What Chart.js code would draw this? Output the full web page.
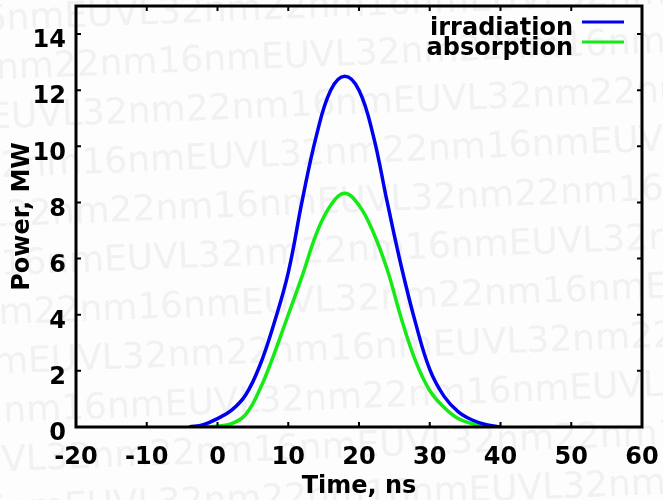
<!DOCTYPE html>
<html>
<head>
<meta charset="utf-8">
<script src="https://cdn.jsdelivr.net/npm/chart.js@4"></script>
<style>
  html, body { margin: 0; padding: 0; background: #fff; }
  #wrap { width: 663px; height: 500px; }
</style>
</head>
<body>
<div id="wrap"><canvas id="chart" width="663" height="500"></canvas></div>
<script>
// values
var timeNs       = [-4, -2, 0, 2, 4, 6, 8, 10, 12, 14, 16, 18, 20, 22, 24, 26, 28, 30, 32, 34, 36, 38, 40]
var irradiation  = [0, 0.08, 0.3, 0.6, 1.15, 2.2, 3.7, 5.5, 8.1, 10.4, 12.0, 12.5, 12.0, 10.4, 8.0, 5.7, 3.7, 2.05, 1.1, 0.55, 0.25, 0.08, 0]
var absorption   = [null, 0, 0.03, 0.12, 0.45, 1.35, 2.6, 4.0, 5.4, 6.9, 7.9, 8.33, 7.9, 6.95, 5.6, 3.85, 2.35, 1.3, 0.7, 0.3, 0.12, 0.02, 0]
var seriesNames  = ["irradiation", "absorption"]
var seriesColors = ["#0000f0", "#14ea14"]

var FONT = "DejaVu Sans"
var watermark = "16nmEUVL32nm22nm"
var markShift = [-40, -250, -120, -330, -200, -10, -280, -90, -360, -170, -60]

function points(values) {
  return timeNs.map(function(t, i) { return { x: t, y: values[i] } })
}

var background = {
  id: "background",
  beforeDraw: function(chart) {
    var ctx = chart.ctx
    ctx.save()
    ctx.fillStyle = "#fdfdfd"
    ctx.fillRect(0, 0, chart.width, chart.height)
    ctx.fillStyle = "#f1f1f1"
    ctx.font = "36px '" + FONT + "'"
    ctx.textBaseline = "alphabetic"
    ctx.rotate(-0.04)
    var row = watermark + watermark + watermark + watermark
    markShift.forEach(function(shift, i) {
      ctx.fillText(row, shift, 30 + i * 49)
    })
    ctx.restore()
  }
}

var frame = {
  id: "frame",
  afterDraw: function(chart) {
    var ctx = chart.ctx, a = chart.chartArea
    var x = chart.scales.x, y = chart.scales.y
    ctx.save()
    ctx.strokeStyle = "#000"
    ctx.lineWidth = 2
    ctx.beginPath()
    x.ticks.forEach(function(t) {
      var px = x.getPixelForValue(t.value)
      ctx.moveTo(px, a.bottom); ctx.lineTo(px, a.bottom - 5)
      ctx.moveTo(px, a.top); ctx.lineTo(px, a.top + 5)
    })
    y.ticks.forEach(function(t) {
      var py = y.getPixelForValue(t.value)
      ctx.moveTo(a.left, py); ctx.lineTo(a.left + 5, py)
      ctx.moveTo(a.right, py); ctx.lineTo(a.right - 5, py)
    })
    ctx.stroke()
    ctx.lineWidth = 3
    ctx.strokeRect(a.left, a.top, a.right - a.left, a.bottom - a.top)

    // legend, top right inside the frame
    ctx.font = "bold 24px '" + FONT + "'"
    ctx.textAlign = "right"
    ctx.textBaseline = "alphabetic"
    seriesNames.forEach(function(name, i) {
      ctx.fillStyle = "#000"
      ctx.fillText(name, 573, 35 + i * 20)
      ctx.strokeStyle = seriesColors[i]
      ctx.beginPath()
      ctx.moveTo(582, 22 + i * 20)
      ctx.lineTo(624, 22 + i * 20)
      ctx.stroke()
    })
    ctx.restore()
  }
}

var tickFont = { family: FONT, size: 24, weight: "bold" }

new Chart(document.getElementById("chart"), {
  type: "line",
  data: {
    datasets: seriesNames.map(function(name, i) {
      return {
        label: name,
        data: points(i === 0 ? irradiation : absorption),
        borderColor: seriesColors[i],
        borderWidth: 3.5,
        pointRadius: 0,
        fill: false,
        tension: 0.4
      }
    })
  },
  options: {
    responsive: false,
    animation: false,
    layout: { padding: { top: 6, right: 21, left: 0, bottom: 0 } },
    plugins: { legend: { display: false }, tooltip: { enabled: false } },
    scales: {
      x: {
        type: "linear",
        min: -20,
        max: 60,
        grid: { display: false, drawTicks: false },
        border: { display: false },
        ticks: { stepSize: 10, font: tickFont, color: "#000", padding: 16, maxRotation: 0 },
        title: { display: true, text: "Time, ns", font: tickFont, color: "#000", padding: { top: 0, bottom: -1 } },
        afterFit: function(scale) {
          scale.height = 73
          scale.paddingLeft = 0
          scale.paddingRight = 0
        }
      },
      y: {
        min: 0,
        max: 15,
        grid: { display: false, drawTicks: false },
        border: { display: false },
        ticks: { stepSize: 2, includeBounds: false, font: tickFont, color: "#000", padding: 10, labelOffset: 7 },
        title: { display: true, text: "Power, MW", font: tickFont, color: "#000", padding: { top: 8, bottom: 0 } },
        afterFit: function(scale) {
          scale.width = 76
          scale.paddingTop = 0
          scale.paddingBottom = 0
        }
      }
    }
  },
  plugins: [background, frame]
})
</script>
</body>
</html>
